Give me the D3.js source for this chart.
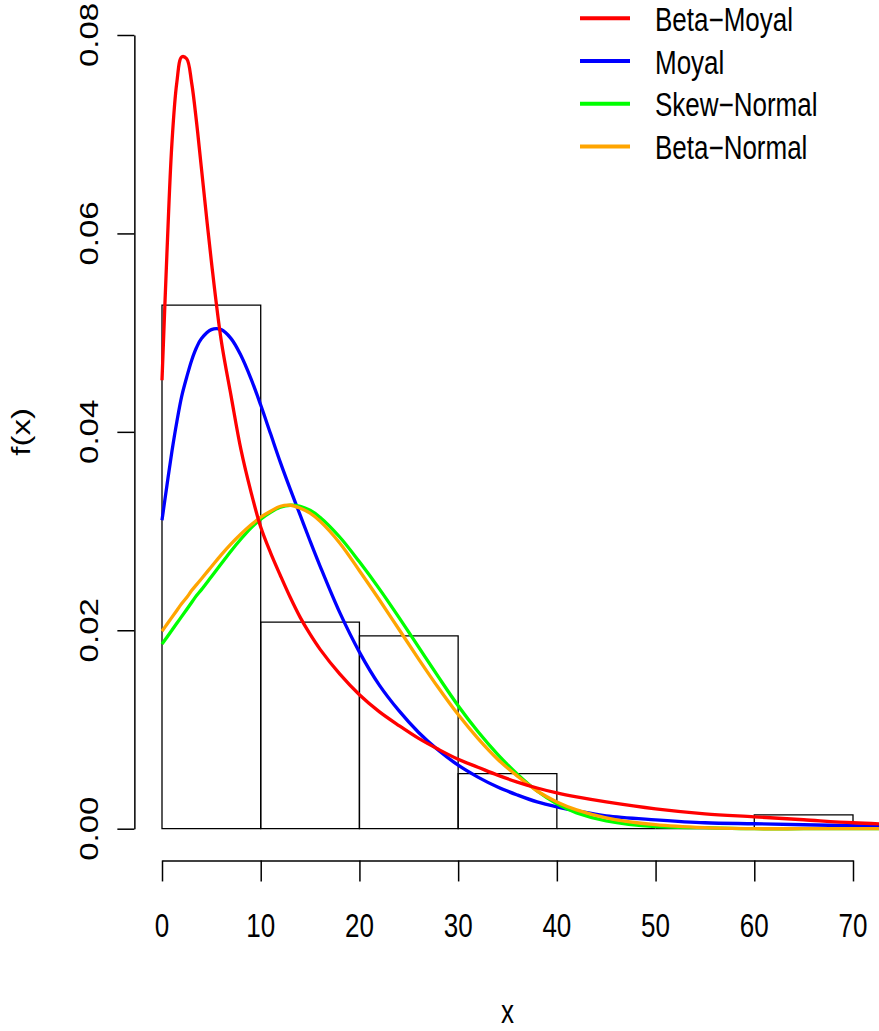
<!DOCTYPE html>
<html>
<head>
<meta charset="utf-8">
<script src="https://cdn.jsdelivr.net/npm/d3@7"></script>
<style>
  html, body { margin: 0; padding: 0; background: #fff; }
  svg text { font-family: "Liberation Sans", Arial, Helvetica, sans-serif; }
</style>
</head>
<body>
<div id="chart"></div>
<script>
// histogram (density, bin width 10)
const binEdges = [0, 10, 20, 30, 40, 50, 60, 70];
const binDensity = [0.05278, 0.02083, 0.01944, 0.00556, 0, 0, 0.00139];

// fitted densities
const xGrid = [0, 0.5, 1, 1.5, 2, 2.5, 3, 3.5, 4, 5, 6, 7, 8, 9, 10, 11, 12, 13, 14, 15, 16,
  18, 20, 22, 24, 26, 28, 30, 32, 34, 36, 38, 40, 42, 45, 50, 55, 60, 65, 70, 75];
const betaMoyal = [0.0452, 0.0580, 0.0690, 0.0752, 0.0778, 0.0776, 0.0752, 0.0712, 0.0665, 0.0572,
  0.0492, 0.0436, 0.0382, 0.0340, 0.0304, 0.0278, 0.0255, 0.0233, 0.0213, 0.0196, 0.0181,
  0.0156, 0.0135, 0.0118, 0.0104, 0.0091, 0.0080, 0.0070, 0.0062, 0.0054, 0.0047, 0.0041,
  0.0036, 0.0032, 0.0027, 0.0020, 0.0015, 0.0012, 0.0009, 0.0006, 0.0004];
const moyal = [0.0311, 0.0346, 0.0380, 0.0410, 0.0436, 0.0455, 0.0472, 0.0485, 0.0494, 0.0503,
  0.0503, 0.0494, 0.0477, 0.0454, 0.0427, 0.0398, 0.0369, 0.0342, 0.0316, 0.0290, 0.0265,
  0.0218, 0.0178, 0.0145, 0.0119, 0.0097, 0.0079, 0.0064, 0.0052, 0.0042, 0.0034, 0.0027,
  0.0022, 0.0018, 0.0013, 0.0009, 0.0006, 0.0005, 0.0004, 0.0003, 0.0002];
const skewNormal = [0.0186, 0.0193, 0.0200, 0.0207, 0.0214, 0.0221, 0.0228, 0.0235, 0.0241, 0.0254,
  0.0267, 0.0280, 0.0292, 0.0303, 0.0312, 0.0319, 0.0324, 0.0326, 0.0325, 0.0321, 0.0314,
  0.0294, 0.0269, 0.0242, 0.0213, 0.0183, 0.0153, 0.0124, 0.0098, 0.0075, 0.0055, 0.0038,
  0.0025, 0.0016, 0.0008, 0.0002, 0.0001, 0, 0, 0, 0];
const betaNormal = [0.0199, 0.0206, 0.0213, 0.0220, 0.0227, 0.0233, 0.0240, 0.0246, 0.0252, 0.0264,
  0.0276, 0.0287, 0.0297, 0.0306, 0.0314, 0.0320, 0.0325, 0.0326, 0.0323, 0.0318, 0.0310,
  0.0288, 0.0260, 0.0231, 0.0201, 0.0171, 0.0142, 0.0115, 0.0091, 0.0070, 0.0053, 0.0038,
  0.0027, 0.0019, 0.0011, 0.0004, 0.0001, 0, 0, 0, 0];

const xTicks = [0, 10, 20, 30, 40, 50, 60, 70];
const yTicks = [0, 0.02, 0.04, 0.06, 0.08];

const series = [
  { name: 'Moyal', values: moyal, color: '#0000ff' },
  { name: 'Skew\u2212Normal', values: skewNormal, color: '#00ff00' },
  { name: 'Beta\u2212Normal', values: betaNormal, color: '#ffa500' },
  { name: 'Beta\u2212Moyal', values: betaMoyal, color: '#ff0000' }
];
const legendOrder = ['Beta\u2212Moyal', 'Moyal', 'Skew\u2212Normal', 'Beta\u2212Normal'];

const W = 879, H = 1031;
const k = 1.27;      // the picture is a bit taller than wide in its text
const fs = 26;

const x = d3.scaleLinear().domain([0, 70]).range([162, 853]);
const y = d3.scaleLinear().domain([0, 0.08]).range([828.7, 35]);

const svg = d3.select('#chart').append('svg')
  .attr('width', W).attr('height', H);

// plot region (usr extended 4%)
const px0 = x(-2.8), px1 = x(72.8), py0 = y(0.0832), py1 = y(-0.0032);
svg.append('clipPath').attr('id', 'plotclip')
  .append('rect')
  .attr('x', px0).attr('y', py0)
  .attr('width', px1 - px0).attr('height', py1 - py0);

// histogram bars as closed paths so empty bins still show a line
svg.append('g')
  .selectAll('path')
  .data(binDensity)
  .enter()
  .append('path')
  .attr('d', (d, i) => {
    const a = x(binEdges[i]), b = x(binEdges[i + 1]);
    return `M${a},${y(0)}V${y(d)}H${b}V${y(0)}Z`;
  })
  .attr('fill', 'none')
  .attr('stroke', '#000')
  .attr('stroke-width', 1.3);

// density curves
const line = d3.line()
  .x((d, i) => x(xGrid[i]))
  .y(d => y(d))
  .curve(d3.curveCatmullRom.alpha(0.5));

svg.append('g').attr('clip-path', 'url(#plotclip)')
  .selectAll('path')
  .data(series)
  .enter()
  .append('path')
  .attr('d', d => line(d.values))
  .attr('fill', 'none')
  .attr('stroke', d => d.color)
  .attr('stroke-width', 3.3);

// y axis
const yAxis = svg.append('g')
  .attr('transform', `translate(${px0},0)`)
  .call(d3.axisLeft(y).tickValues(yTicks).tickSize(17).tickSizeOuter(0).tickFormat(''));
yAxis.selectAll('path, line').attr('stroke', '#000').attr('stroke-width', 1.5);

svg.append('g')
  .selectAll('text')
  .data(yTicks)
  .enter()
  .append('text')
  .attr('transform', d => `translate(98,${y(d)}) scale(1,${k}) rotate(-90)`)
  .attr('text-anchor', 'middle')
  .attr('font-size', fs)
  .text(d => d3.format('.2f')(d));

// x axis
const xAxis = svg.append('g')
  .attr('transform', `translate(0,${py1})`)
  .call(d3.axisBottom(x).tickValues(xTicks).tickSize(21).tickSizeOuter(0).tickFormat(''));
xAxis.selectAll('path, line').attr('stroke', '#000').attr('stroke-width', 1.5);

svg.append('g')
  .selectAll('text')
  .data(xTicks)
  .enter()
  .append('text')
  .attr('transform', d => `translate(${x(d)},937) scale(1,${k})`)
  .attr('text-anchor', 'middle')
  .attr('font-size', fs)
  .text(d => d);

// axis titles
svg.append('text')
  .attr('transform', `translate(${(px0 + px1) / 2},1023) scale(1,${k})`)
  .attr('text-anchor', 'middle')
  .attr('font-size', fs)
  .text('x');

svg.append('text')
  .attr('transform', `translate(30,${(py0 + py1) / 2}) scale(1,${k}) rotate(-90)`)
  .attr('text-anchor', 'middle')
  .attr('font-size', fs)
  .text('f(x)');

// legend
const colorOf = d3.scaleOrdinal()
  .domain(series.map(d => d.name))
  .range(series.map(d => d.color));

const leg = svg.append('g')
  .selectAll('g')
  .data(legendOrder)
  .enter()
  .append('g')
  .attr('transform', (d, i) => `translate(0,${18.3 + i * 42.7})`);

leg.append('line')
  .attr('x1', 580).attr('x2', 630)
  .attr('stroke', d => colorOf(d))
  .attr('stroke-width', 4);

leg.append('text')
  .attr('transform', `translate(655,12.5) scale(1,${k})`)
  .attr('font-size', fs)
  .text(d => d);
</script>
</body>
</html>
